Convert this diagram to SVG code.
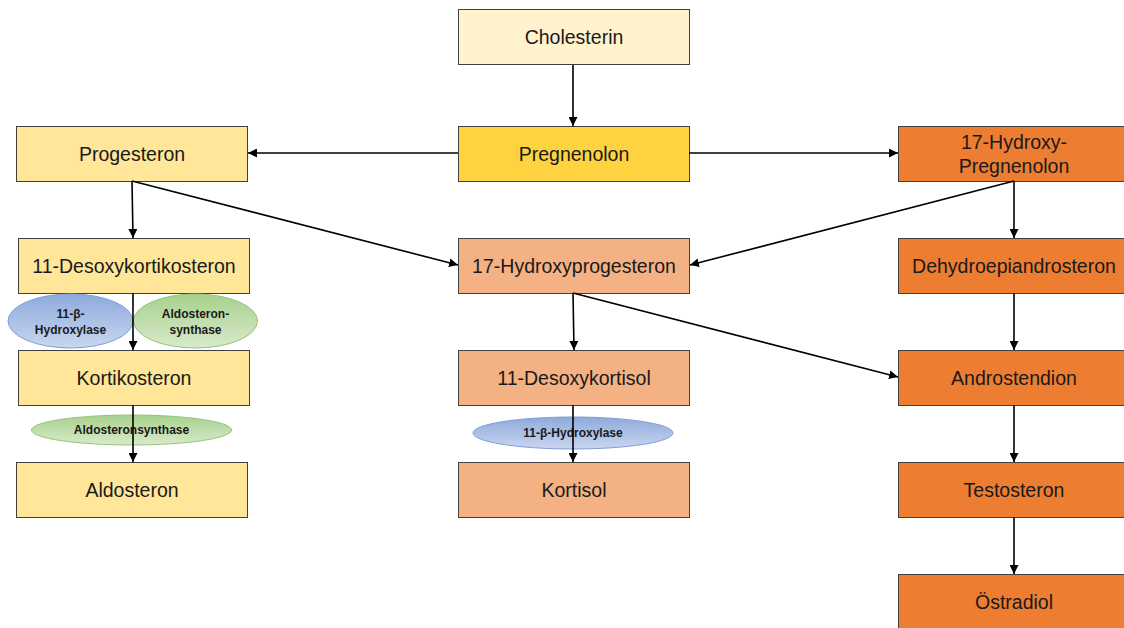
<svg xmlns="http://www.w3.org/2000/svg" width="1124" height="628" viewBox="0 0 1124 628">
<defs>
<marker id="ah" viewBox="0 0 10 10" refX="10" refY="5" markerWidth="9" markerHeight="9" markerUnits="userSpaceOnUse" orient="auto">
<path d="M0,0 L10,5 L0,10 z" fill="#000"/>
</marker>
<linearGradient id="gBlue" x1="0" y1="0" x2="0" y2="1">
<stop offset="0" stop-color="#8eaadb"/>
<stop offset="1" stop-color="#c9d6f0"/>
</linearGradient>
<linearGradient id="gGreen" x1="0" y1="0" x2="0" y2="1">
<stop offset="0" stop-color="#a8d08d"/>
<stop offset="1" stop-color="#d8eacb"/>
</linearGradient>
</defs>
<style>
.box{stroke:#404040;stroke-width:1}
.t{font-family:"Liberation Sans",Arial,sans-serif;font-size:19.5px;fill:#1a1a1a;text-anchor:middle}
.e{font-family:"Liberation Sans",Arial,sans-serif;font-size:12px;font-weight:bold;fill:#1a1a1a;text-anchor:middle}
.eb{fill:url(#gBlue);stroke:#7f9ed6;stroke-width:1}
.eg{fill:url(#gGreen);stroke:#94c47a;stroke-width:1}
.c{stroke:#000;stroke-width:1.6;fill:none;marker-end:url(#ah)}
.chol{fill:#fff2cc}.preg{fill:#ffd23f}.prog{fill:#ffe699}.ohp{fill:#f4b183}.or{fill:#ed7d31}
</style>
<rect width="1124" height="628" fill="#fff"/>

<g id="cholesterin"><rect class="box chol" x="458.5" y="9.5" width="231" height="55"/><text class="t" x="574" y="44">Cholesterin</text></g>
<g id="pregnenolon"><rect class="box preg" x="458.5" y="126.5" width="231" height="55"/><text class="t" x="574" y="161">Pregnenolon</text></g>
<g id="progesteron"><rect class="box prog" x="16.5" y="126.5" width="231" height="55"/><text class="t" x="132" y="161">Progesteron</text></g>
<g id="hydroxypregnenolon"><rect class="box or" x="898.5" y="126.5" width="231" height="55"/><text class="t" x="1014" y="149">17-Hydroxy-</text><text class="t" x="1014" y="173">Pregnenolon</text></g>

<g id="desoxykortikosteron"><rect class="box prog" x="18.5" y="238.5" width="231" height="55"/><text class="t" x="134" y="273">11-Desoxykortikosteron</text></g>
<g id="hydroxyprogesteron"><rect class="box ohp" x="458.5" y="238.5" width="231" height="55"/><text class="t" x="574" y="273">17-Hydroxyprogesteron</text></g>
<g id="dhea"><rect class="box or" x="898.5" y="238.5" width="231" height="55"/><text class="t" x="1014" y="273">Dehydroepiandrosteron</text></g>

<g id="kortikosteron"><rect class="box prog" x="18.5" y="350.5" width="231" height="55"/><text class="t" x="134" y="385">Kortikosteron</text></g>
<g id="desoxykortisol"><rect class="box ohp" x="458.5" y="350.5" width="231" height="55"/><text class="t" x="574" y="385">11-Desoxykortisol</text></g>
<g id="androstendion"><rect class="box or" x="898.5" y="350.5" width="231" height="55"/><text class="t" x="1014" y="385">Androstendion</text></g>

<g id="aldosteron"><rect class="box prog" x="16.5" y="462.5" width="231" height="55"/><text class="t" x="132" y="497">Aldosteron</text></g>
<g id="kortisol"><rect class="box ohp" x="458.5" y="462.5" width="231" height="55"/><text class="t" x="574" y="497">Kortisol</text></g>
<g id="testosteron"><rect class="box or" x="898.5" y="462.5" width="231" height="55"/><text class="t" x="1014" y="497">Testosteron</text></g>
<g id="oestradiol"><rect class="box or" x="898.5" y="574.5" width="231" height="60"/><text class="t" x="1014" y="609">Östradiol</text></g>

<g id="enzyme-hydroxylase-1"><ellipse class="eb" cx="70.5" cy="321" rx="62.5" ry="27"/><text class="e" x="70.5" y="318">11-β-</text><text class="e" x="70.5" y="334">Hydroxylase</text></g>
<g id="enzyme-aldosteronsynthase-1"><ellipse class="eg" cx="195.5" cy="321" rx="62" ry="27"/><text class="e" x="195.5" y="318">Aldosteron-</text><text class="e" x="195.5" y="334">synthase</text></g>
<g id="enzyme-aldosteronsynthase-2"><ellipse class="eg" cx="131.5" cy="430" rx="100" ry="15"/><text class="e" x="131.5" y="434">Aldosteronsynthase</text></g>
<g id="enzyme-hydroxylase-2"><ellipse class="eb" cx="573" cy="433" rx="100" ry="16"/><text class="e" x="573" y="437">11-β-Hydroxylase</text></g>

<g id="connectors">
<line class="c" x1="573" y1="65" x2="573" y2="126"/>
<line class="c" x1="458" y1="153" x2="248" y2="153"/>
<line class="c" x1="689" y1="153" x2="898" y2="153"/>
<line class="c" x1="132" y1="181" x2="133" y2="238"/>
<line class="c" x1="132" y1="181" x2="458" y2="265"/>
<line class="c" x1="1014" y1="181" x2="690" y2="265"/>
<line class="c" x1="1014" y1="181" x2="1014" y2="238"/>
<line class="c" x1="133" y1="293" x2="133" y2="350"/>
<line class="c" x1="133" y1="405" x2="133" y2="462"/>
<line class="c" x1="573" y1="293" x2="574" y2="350"/>
<line class="c" x1="573" y1="293" x2="898" y2="377"/>
<line class="c" x1="573" y1="405" x2="573" y2="462"/>
<line class="c" x1="1014" y1="293" x2="1014" y2="350"/>
<line class="c" x1="1014" y1="405" x2="1014" y2="462"/>
<line class="c" x1="1014" y1="517" x2="1014" y2="574"/>
</g>
</svg>
